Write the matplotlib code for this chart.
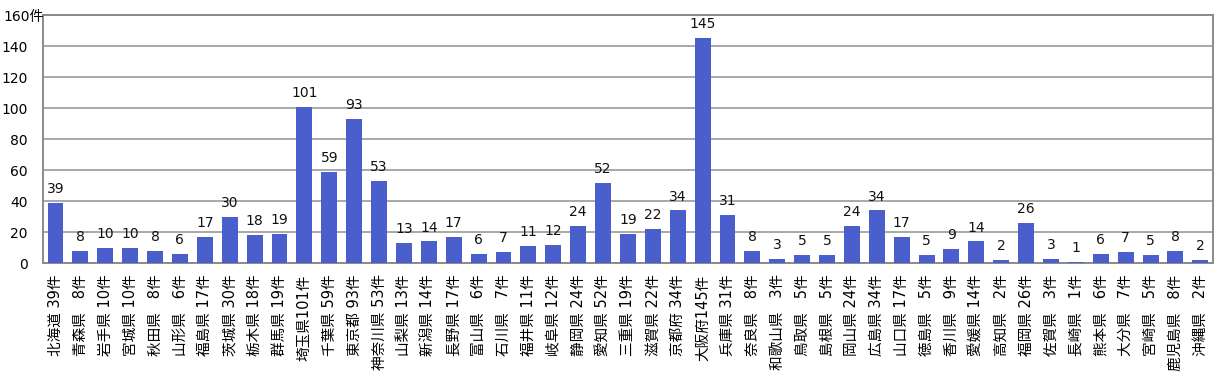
import matplotlib
matplotlib.use("Agg")
import matplotlib.pyplot as plt

# digits in DejaVu (wide, like the original), kanji fall back to Noto CJK
plt.rcParams['font.family'] = ['DejaVu Sans', 'Noto Sans CJK JP']

# prefecture names and case counts
prefectures = [
    "北海道", "青森県", "岩手県", "宮城県", "秋田県", "山形県", "福島県", "茨城県",
    "栃木県", "群馬県", "埼玉県", "千葉県", "東京都", "神奈川県", "山梨県", "新潟県",
    "長野県", "富山県", "石川県", "福井県", "岐阜県", "静岡県", "愛知県", "三重県",
    "滋賀県", "京都府", "大阪府", "兵庫県", "奈良県", "和歌山県", "鳥取県", "島根県",
    "岡山県", "広島県", "山口県", "徳島県", "香川県", "愛媛県", "高知県", "福岡県",
    "佐賀県", "長崎県", "熊本県", "大分県", "宮崎県", "鹿児島県", "沖縄県",
]
counts = [
    39, 8, 10, 10, 8, 6, 17, 30, 18, 19, 101, 59, 93, 53, 13, 14,
    17, 6, 7, 11, 12, 24, 52, 19, 22, 34, 145, 31, 8, 3, 5, 5,
    24, 34, 17, 5, 9, 14, 2, 26, 3, 1, 6, 7, 5, 8, 2,
]
y_ticks = [0, 20, 40, 60, 80, 100, 120, 140, 160]
y_unit = "件"


def make_label(name, n):
    # count is padded to three characters like the original labels
    num = str(n)
    if len(num) == 3:
        return f"{name}{num}件"
    return f"{name} {num.rjust(2, chr(0x2007))}件"


labels = [make_label(p, c) for p, c in zip(prefectures, counts)]

fig = plt.figure(figsize=(12.3, 3.87), dpi=100)
ax = fig.add_axes([0.035, 0.320, 0.951, 0.641])

x = list(range(len(counts)))
ax.bar(x, counts, width=0.64, color="#4a5fcc", zorder=3)

for xi, c in zip(x, counts):
    ax.annotate(str(c), xy=(xi, c), xytext=(0, 5), textcoords="offset points",
                ha="center", va="bottom", fontsize=10, color="#111111")

ax.set_xlim(-0.5, len(counts) - 0.5)
ax.set_ylim(0, 160)
ax.set_yticks(y_ticks)
# top label carries the unit and is drawn separately below
ax.set_yticklabels([str(v) for v in y_ticks[:-1]] + [""], fontsize=10)
ax.set_xticks(x)
ax.set_xticklabels(labels, rotation=90, fontsize=10.5)
ax.tick_params(axis="both", length=0)
ax.tick_params(axis="x", pad=8)
ax.tick_params(axis="y", pad=11)

ax.annotate(f"{y_ticks[-1]}{y_unit}", xy=(0, y_ticks[-1]),
            xycoords=("axes fraction", "data"),
            xytext=(-40, 0), textcoords="offset pixels",
            ha="left", va="center_baseline", fontsize=10)

ax.grid(axis="y", color="#a8a8a8", linewidth=1.4, zorder=0)
for side, spine in ax.spines.items():
    spine.set_color("#8a8a8a")
    spine.set_linewidth(1.4)

fig.savefig("out.png", dpi=100)
